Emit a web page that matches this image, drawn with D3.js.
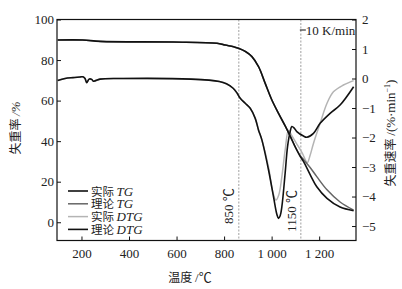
<!DOCTYPE html>
<html>
<head>
<meta charset="utf-8">
<script src="https://cdn.jsdelivr.net/npm/d3@7/dist/d3.min.js"></script>
<style>
  html, body { margin: 0; padding: 0; background: #fff; }
  svg { display: block; }
  .tick text { font-family: "Liberation Serif", "Noto Sans CJK SC", serif; font-size: 13px; fill: #222; }
  .tick line { stroke: #111; stroke-width: 1; }
  .lbl { font-family: "Liberation Serif", "Noto Sans CJK SC", serif; font-size: 13px; fill: #222; }
  .cjk { font-family: "Noto Sans CJK SC", "Liberation Serif", sans-serif; }
</style>
</head>
<body>
<div id="chart"></div>
<script>
// TG 曲线 (左轴, %)
const tgTemp    = [100, 205, 280, 585, 770, 805, 840, 860, 890, 917, 945, 973, 1001, 1029, 1057, 1078, 1100, 1120, 1134, 1162, 1190, 1233, 1288, 1345];
const tgActual  = [89.9, 89.9, 89.2, 88.9, 88.3, 87.4, 86.6, 85.8, 84.2, 81.7, 76.7, 68.5, 60.3, 53.7, 47.5, 42.5, 37.0, 32.5, 30.0, 23.5, 17.5, 11.8, 7.5, 5.7];
const tgTheory  = [89.9, 89.9, 89.2, 88.9, 88.3, 87.4, 86.6, 85.8, 84.2, 81.7, 76.7, 68.5, 60.3, 53.7, 47.5, 42.5, 37.0, 33.0, 31.0, 27.0, 22.5, 16.0, 10.0, 6.0];

// 理论 DTG (右轴, %/min)
const dtgTheoryTemp = [100, 131, 164, 194, 206, 215, 222, 232, 243, 250, 257, 278, 375, 660, 780, 810, 838, 855, 868, 889, 910, 931, 945, 959, 987, 1008, 1022, 1029, 1036, 1043, 1057, 1067, 1078, 1085, 1095, 1106, 1134, 1148, 1176, 1204, 1246, 1288, 1345];
const dtgTheory     = [-0.07, 0.0, 0.03, 0.05, 0.06, 0.0, -0.14, -0.02, -0.03, -0.09, -0.08, -0.02, 0.0, -0.02, -0.1, -0.18, -0.33, -0.5, -0.67, -0.84, -1.01, -1.35, -1.75, -2.08, -3.10, -4.01, -4.6, -4.74, -4.65, -4.35, -3.2, -2.31, -1.8, -1.63, -1.68, -1.80, -1.95, -1.99, -1.86, -1.52, -1.18, -0.9, -0.28];

// 实际 DTG (右轴, %/min)
const dtgActualTemp = [100, 131, 164, 194, 206, 215, 222, 232, 243, 250, 257, 278, 375, 660, 780, 810, 838, 855, 868, 889, 910, 931, 945, 959, 987, 1005, 1018, 1030, 1043, 1057, 1071, 1085, 1106, 1129, 1150, 1162, 1176, 1204, 1233, 1260, 1302, 1345];
const dtgActual     = [-0.07, 0.0, 0.03, 0.05, 0.06, 0.0, -0.14, -0.02, -0.03, -0.09, -0.08, -0.02, 0.0, -0.02, -0.1, -0.18, -0.33, -0.5, -0.67, -0.84, -1.01, -1.35, -1.75, -2.08, -3.0, -3.85, -4.12, -3.95, -3.33, -2.42, -1.75, -1.94, -2.22, -2.53, -2.85, -2.6, -2.2, -1.52, -0.84, -0.45, -0.22, -0.07];

const xTicks = [200, 400, 600, 800, 1000, 1200];
const leftTicks = [0, 20, 40, 60, 80, 100];
const rightTicks = [2, 1, 0, -1, -2, -3, -4, -5];
const markerTemps = [862, 1123];
const markerLabels = ["850 ℃", "1150 ℃"];

const series = [
  { name: "实际", tag: "DTG", temps: dtgActualTemp, vals: dtgActual, axis: "right", color: "#b4b4b4", width: 1.5 },
  { name: "理论", tag: "TG", temps: tgTemp, vals: tgTheory, axis: "left", color: "#666", width: 1.5 },
  { name: "实际", tag: "TG", temps: tgTemp, vals: tgActual, axis: "left", color: "#111", width: 1.6 },
  { name: "理论", tag: "DTG", temps: dtgTheoryTemp, vals: dtgTheory, axis: "right", color: "#111", width: 1.6 }
];
const legendOrder = [2, 1, 0, 3];

const W = 402, H = 289;
const plot = { left: 57, right: 356, top: 19.5, bottom: 240.5 };

const svg = d3.select("#chart").append("svg")
  .attr("width", W).attr("height", H);

const x = d3.scaleLinear().domain([97, 1355]).range([plot.left, plot.right]);
const yL = d3.scaleLinear().domain([-9, 100]).range([plot.bottom, plot.top]);
const yR = d3.scaleLinear().domain([-5.49, 2]).range([plot.bottom, plot.top]);

// 标记线
svg.append("g").selectAll("line")
  .data(markerTemps)
  .enter().append("line")
  .attr("x1", d => x(d)).attr("x2", d => x(d))
  .attr("y1", plot.top).attr("y2", plot.bottom)
  .attr("stroke", "#888").attr("stroke-width", 0.8)
  .attr("stroke-dasharray", "2,1.5");

// 曲线
svg.append("clipPath").attr("id", "clip")
  .append("rect")
  .attr("x", plot.left).attr("y", plot.top)
  .attr("width", plot.right - plot.left).attr("height", plot.bottom - plot.top);

const curves = svg.append("g").attr("clip-path", "url(#clip)");
series.forEach(s => {
  const yScale = s.axis === "left" ? yL : yR;
  const pts = s.temps.map((t, i) => [t, s.vals[i]]);
  curves.append("path")
    .datum(pts)
    .attr("fill", "none")
    .attr("stroke", s.color)
    .attr("stroke-width", s.width)
    .attr("d", d3.line()
      .x(d => x(d[0]))
      .y(d => yScale(d[1]))
      .curve(d3.curveCatmullRom.alpha(0.5)));
});

// 坐标轴
const fmtX = n => n >= 1000 ? `${Math.floor(n / 1000)} ${String(n % 1000).padStart(3, "0")}` : String(n);

svg.append("g")
  .attr("transform", `translate(0,${plot.bottom})`)
  .call(d3.axisBottom(x).tickValues(xTicks).tickSize(-4).tickPadding(8).tickFormat(fmtX))
  .call(g => g.select(".domain").remove());

svg.append("g")
  .attr("transform", `translate(${plot.left},0)`)
  .call(d3.axisLeft(yL).tickValues(leftTicks).tickSize(-4).tickPadding(3))
  .call(g => g.select(".domain").remove());

svg.append("g")
  .attr("transform", `translate(${plot.right},0)`)
  .call(d3.axisRight(yR).tickValues(rightTicks).tickSize(-4).tickPadding(6))
  .call(g => g.select(".domain").remove());

svg.append("rect")
  .attr("x", plot.left).attr("y", plot.top)
  .attr("width", plot.right - plot.left).attr("height", plot.bottom - plot.top)
  .attr("fill", "none").attr("stroke", "#111").attr("stroke-width", 1.2);

// 标记文字
svg.append("text").attr("class", "lbl")
  .attr("transform", `translate(${x(markerTemps[0]) - 10},206) rotate(-90)`)
  .attr("text-anchor", "middle").attr("dy", "0.35em")
  .text(markerLabels[0]);

svg.append("text").attr("class", "lbl")
  .attr("transform", `translate(${x(markerTemps[1]) - 9},211) rotate(-90)`)
  .attr("text-anchor", "middle").attr("dy", "0.35em")
  .text(markerLabels[1]);

svg.append("line")
  .attr("x1", x(markerTemps[1]) - 1).attr("x2", x(markerTemps[1]) + 5)
  .attr("y1", 30).attr("y2", 30)
  .attr("stroke", "#111").attr("stroke-width", 1);
svg.append("text").attr("class", "lbl")
  .attr("x", x(markerTemps[1]) + 5).attr("y", 34.5)
  .text("10 K/min");

// 轴标题
svg.append("text").attr("class", "lbl")
  .attr("transform", "translate(15,128) rotate(-90)")
  .attr("text-anchor", "middle").attr("dy", "0.35em")
  .call(t => {
    t.append("tspan").attr("class", "cjk").attr("font-size", "12px").text("失重率 ");
    t.append("tspan").attr("font-style", "italic").text("/%");
  });

svg.append("text").attr("class", "lbl")
  .attr("transform", "translate(390,133) rotate(-90)")
  .attr("text-anchor", "middle").attr("dy", "0.35em")
  .call(t => {
    t.append("tspan").attr("class", "cjk").attr("font-size", "12px").text("失重速率 ");
    t.append("tspan").text("/(%·min");
    t.append("tspan").attr("font-size", "8px").attr("dy", "-5").text("−1");
    t.append("tspan").attr("dy", "5").text(")");
  });

svg.append("text").attr("class", "lbl")
  .attr("x", 190).attr("y", 277).attr("text-anchor", "middle").attr("dy", "0.35em")
  .call(t => {
    t.append("tspan").attr("class", "cjk").attr("font-size", "12px").text("温度 ");
    t.append("tspan").text("/℃");
  });

// 图例
const legendY = [191, 203.8, 216.6, 229.4];
const legend = svg.append("g");
legendOrder.forEach((si, i) => {
  const s = series[si];
  legend.append("line")
    .attr("x1", 68).attr("x2", 88)
    .attr("y1", legendY[i]).attr("y2", legendY[i])
    .attr("stroke", s.color).attr("stroke-width", s.width);
  const t = legend.append("text").attr("class", "lbl")
    .attr("font-size", "12px")
    .attr("x", 91).attr("y", legendY[i]).attr("dy", "0.35em");
  t.append("tspan").attr("class", "cjk").attr("font-size", "11.5px").text(s.name + " ");
  t.append("tspan").attr("font-style", "italic").attr("font-size", "13px").text(s.tag);
});
</script>
</body>
</html>
